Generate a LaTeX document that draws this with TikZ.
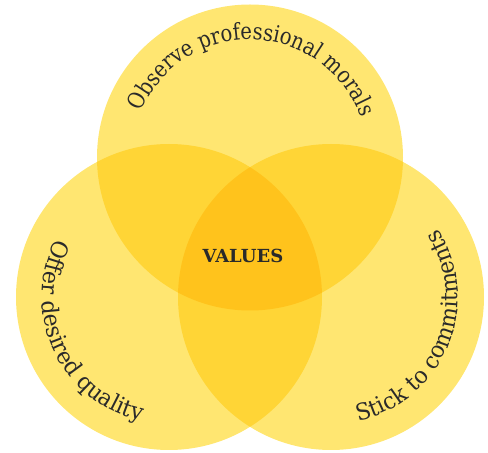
\documentclass[tikz,border=0pt]{standalone}
\usepackage{fontspec}
\setmainfont{DejaVu Serif}
\newfontfamily\arcfont[FakeStretch=0.85]{DejaVu Serif}
\newfontfamily\sidefont[FakeStretch=0.96]{DejaVu Serif}
\usetikzlibrary{decorations.text}
\definecolor{one}{HTML}{FFE671}
\definecolor{two}{HTML}{FFD536}
\definecolor{three}{HTML}{FFC31C}
\definecolor{ink}{HTML}{2A2A2A}

\begin{document}
\begin{tikzpicture}[x=1pt,y=1pt,
		arctext/.style={decorate,decoration={text along path,text align=center,
			text={|\arcfont\fontsize{23}{26}\selectfont\color{ink}|#1}}},
		sidetext/.style={decorate,decoration={text along path,text align=center,
			text={|\sidefont\fontsize{23}{26}\selectfont\color{ink}|#1}}}]
		\useasboundingbox (0,0) rectangle (488,453);
		\coordinate (t) at (250,295.5);
		\coordinate (l) at (169,156);
		\coordinate (r) at (331,156);
		\fill[one] (t) circle[radius=153] (l) circle[radius=153] (r) circle[radius=153];
		\begin{scope}
			\clip (t) circle[radius=153];
			\fill[two] (l) circle[radius=153] (r) circle[radius=153];
		\end{scope}
		\begin{scope}
			\clip (l) circle[radius=153];
			\fill[two] (r) circle[radius=153];
		\end{scope}
		\begin{scope}
			\clip (t) circle[radius=153];
			\clip (l) circle[radius=153];
			\fill[three] (r) circle[radius=153];
		\end{scope}
		\path[arctext={Observe professional morals}] (t) ++(178.5:118) arc[start angle=178.5,end angle=-1.5,radius=118];
		\path[sidetext={Offer desired quality}] (l) ++(105:127) arc[start angle=105,end angle=305,radius=127];
		\path[sidetext={Stick to commitments}] (r) ++(237.5:127) arc[start angle=237.5,end angle=437.5,radius=127];
		\node[font=\bfseries\fontsize{18}{21}\selectfont,text=ink] (values) at (243,197) {VALUES};
	\end{tikzpicture}
\end{document}
